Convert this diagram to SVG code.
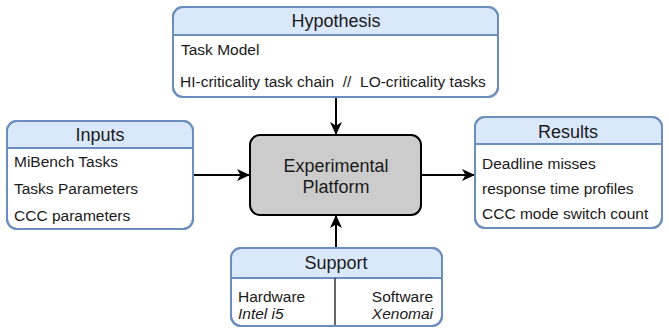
<svg xmlns="http://www.w3.org/2000/svg" width="669" height="328" viewBox="0 0 669 328">
<defs>
<style>
.box{fill:#ffffff;stroke:#6c8ebf;stroke-width:2}
.hdr{fill:#dae8fc;stroke:none}
.sep{stroke:#6c8ebf;stroke-width:2;fill:none}
.ht{font-family:"Liberation Sans",Arial,sans-serif;font-size:18px;fill:#1a1a1a;text-anchor:middle}
.bt{font-family:"Liberation Sans",Arial,sans-serif;font-size:15.5px;fill:#1a1a1a}
.it{font-style:italic}
.end{text-anchor:end}
.con{stroke:#000;stroke-width:2;fill:none;marker-end:url(#arr)}
</style>
<marker id="arr" markerUnits="userSpaceOnUse" markerWidth="14" markerHeight="12" refX="12" refY="6" orient="auto">
<path d="M0,0 L13,6 L0,12 L3.5,6 Z" fill="#000"/>
</marker>
</defs>
<rect width="669" height="328" fill="#ffffff"/>

<g id="connectors">
<line class="con" x1="336" y1="97" x2="336" y2="134"/>
<line class="con" x1="193" y1="175" x2="249" y2="175"/>
<line class="con" x1="421" y1="175" x2="474" y2="175"/>
<line class="con" x1="336" y1="248" x2="336" y2="216"/>
</g>

<g id="hypothesis">
<rect class="box" x="173" y="7" width="325" height="90" rx="10"/>
<path class="hdr" d="M174,35 V17 A9,9 0 0 1 183,8 H488 A9,9 0 0 1 497,17 V35 Z"/>
<line class="sep" x1="173" y1="35" x2="498" y2="35"/>
<rect x="173" y="7" width="325" height="90" rx="10" fill="none" stroke="#6c8ebf" stroke-width="2"/>
<text class="ht" x="336" y="27">Hypothesis</text>
<text class="bt" x="181" y="55">Task Model</text>
<text class="bt" x="180" y="87" xml:space="preserve">HI-criticality task chain  //  LO-criticality tasks</text>
</g>

<g id="inputs">
<rect class="box" x="7" y="121" width="186" height="108" rx="10"/>
<path class="hdr" d="M8,148 V131 A9,9 0 0 1 17,122 H183 A9,9 0 0 1 192,131 V148 Z"/>
<line class="sep" x1="7" y1="148" x2="193" y2="148"/>
<rect x="7" y="121" width="186" height="108" rx="10" fill="none" stroke="#6c8ebf" stroke-width="2"/>
<text class="ht" x="100" y="141">Inputs</text>
<text class="bt" x="14" y="167">MiBench Tasks</text>
<text class="bt" x="14" y="194">Tasks Parameters</text>
<text class="bt" x="14" y="221">CCC parameters</text>
</g>

<g id="platform">
<rect x="250" y="135" width="171" height="80" rx="10" fill="#cccccc" stroke="#000" stroke-width="2"/>
<text class="ht" x="336" y="172">Experimental</text>
<text class="ht" x="336" y="193">Platform</text>
</g>

<g id="results">
<rect class="box" x="475" y="117" width="187" height="111" rx="10"/>
<path class="hdr" d="M476,144 V127 A9,9 0 0 1 485,118 H652 A9,9 0 0 1 661,127 V144 Z"/>
<line class="sep" x1="475" y1="144" x2="662" y2="144"/>
<rect x="475" y="117" width="187" height="111" rx="10" fill="none" stroke="#6c8ebf" stroke-width="2"/>
<text class="ht" x="568" y="138">Results</text>
<text class="bt" x="482" y="169">Deadline misses</text>
<text class="bt" x="482" y="194">response time profiles</text>
<text class="bt" x="482" y="219">CCC mode switch count</text>
</g>

<g id="support">
<rect class="box" x="231" y="248" width="211" height="78" rx="10"/>
<path class="hdr" d="M232,278 V258 A9,9 0 0 1 241,249 H432 A9,9 0 0 1 441,258 V278 Z"/>
<line class="sep" x1="231" y1="278" x2="442" y2="278"/>
<line x1="335" y1="278" x2="335" y2="326" stroke="#333" stroke-width="1.5"/>
<rect x="231" y="248" width="211" height="78" rx="10" fill="none" stroke="#6c8ebf" stroke-width="2"/>
<text class="ht" x="336" y="269">Support</text>
<text class="bt" x="238" y="302">Hardware</text>
<text class="bt it" x="238" y="319">Intel i5</text>
<text class="bt end" x="433" y="302">Software</text>
<text class="bt it end" x="433" y="319">Xenomai</text>
</g>
</svg>
